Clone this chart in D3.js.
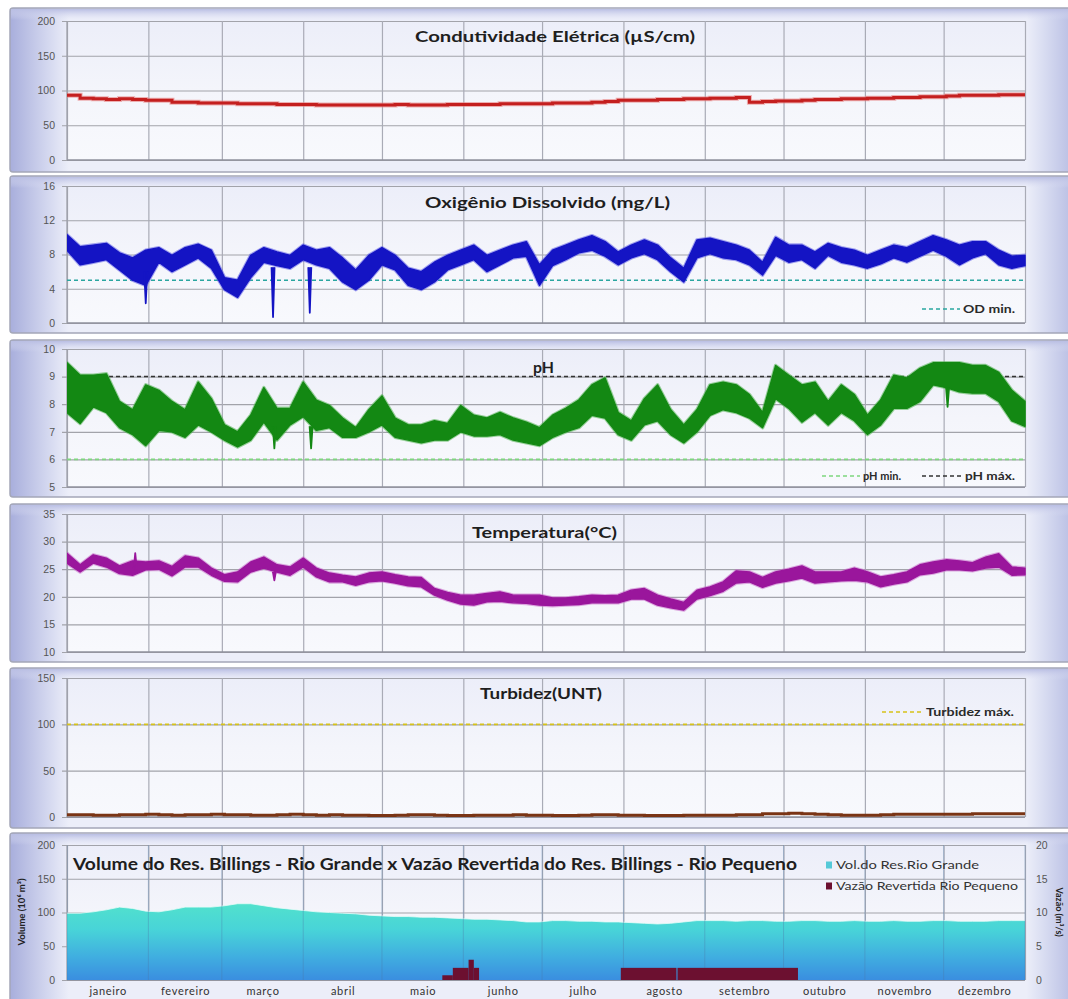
<!DOCTYPE html>
<html>
<head>
<meta charset="utf-8">
<script src="https://cdn.jsdelivr.net/npm/d3@7"></script>
<style>
  body { margin: 0; background: #ffffff; }
  svg { display: block; }
</style>
</head>
<body>
<svg id="chart" width="1068" height="999"></svg>
<script>
// ---------- Dados (uma leitura a cada 5 dias, de 1º de janeiro a 31 de dezembro) ----------
const PASSO_DIAS = 5;
const meses = ["janeiro", "fevereiro", "março", "abril", "maio", "junho", "julho",
               "agosto", "setembro", "outubro", "novembro", "dezembro"];
const inicioMes = [0, 31, 59, 90, 120, 151, 181, 212, 243, 273, 304, 334, 365];

// Condutividade elétrica (µS/cm)
const condutividade = [93, 89, 88, 87, 88, 87, 86, 86, 83, 83, 82, 82, 82, 81, 81, 81, 80, 80, 80, 79,
                       79, 79, 79, 79, 79, 80, 79, 79, 79, 80, 80, 80, 80, 81, 81, 81, 81, 82, 82, 82,
                       83, 84, 86, 86, 86, 87, 87, 88, 88, 89, 89, 90, 83, 84, 85, 85, 86, 87, 87, 88,
                       88, 89, 89, 90, 90, 91, 91, 92, 93, 93, 93, 94, 94, 94];

// Oxigênio dissolvido (mg/L): faixa mínima e máxima de cada intervalo
const odMax = [10.3, 8.9, 9.1, 9.3, 8.2, 7.6, 8.5, 8.8, 7.9, 8.8, 9.2, 8.5, 5.3, 5.0, 7.9, 8.8, 8.3, 7.9, 9.1, 8.5,
               8.8, 7.6, 6.2, 7.9, 8.8, 7.9, 6.4, 6.0, 7.1, 7.9, 8.5, 9.1, 7.9, 8.5, 9.1, 9.5, 6.8, 8.5, 9.1, 9.7,
               10.2, 9.5, 8.3, 9.1, 9.7, 9.1, 7.6, 6.4, 9.7, 9.9, 9.5, 9.1, 8.5, 7.1, 10.0, 9.1, 9.1, 8.3, 9.3, 8.8,
               8.5, 7.9, 8.5, 9.1, 8.8, 9.5, 10.2, 9.7, 9.1, 9.5, 9.5, 8.5, 7.8, 7.9];
const odMin = [8.5, 6.8, 7.1, 7.4, 6.2, 5.0, 4.4, 7.1, 6.0, 6.8, 7.6, 6.4, 3.9, 3.0, 5.3, 7.1, 6.7, 6.4, 7.4, 6.8,
               6.4, 4.8, 3.9, 5.0, 6.8, 6.2, 4.4, 3.9, 4.8, 6.2, 6.8, 7.4, 6.0, 6.8, 7.6, 7.8, 4.4, 6.7, 7.4, 8.2,
               8.5, 7.8, 6.8, 7.6, 8.1, 7.4, 6.0, 4.8, 7.6, 8.1, 7.6, 7.4, 6.8, 5.6, 7.9, 7.1, 7.4, 6.4, 7.9, 7.1,
               6.8, 6.4, 6.9, 7.6, 7.1, 7.8, 8.5, 7.8, 6.8, 7.6, 8.1, 6.8, 6.4, 6.7];
const odQuedaDia = [30, 78.5, 92.5];
const odQuedaValor = [2.3, 0.7, 1.2];
const odMinimo = 5;

// pH
const phMax = [9.5, 9.05, 9.05, 9.1, 8.1, 7.8, 8.7, 8.5, 8.1, 7.8, 8.8, 8.2, 7.25, 7.0, 7.6, 8.6, 7.85, 7.85, 8.8, 8.15,
               7.95, 7.5, 7.15, 7.8, 8.3, 7.5, 7.25, 7.25, 7.4, 7.3, 7.95, 7.6, 7.5, 7.7, 7.5, 7.35, 7.15, 7.6, 7.85, 8.15,
               8.7, 8.95, 7.7, 7.4, 8.2, 8.7, 7.8, 7.25, 7.8, 8.7, 8.8, 8.7, 8.35, 7.7, 9.4, 9.05, 8.7, 8.8, 8.1, 8.7,
               8.35, 7.6, 8.15, 9.05, 8.95, 9.3, 9.5, 9.5, 9.5, 9.4, 9.4, 9.15, 8.5, 8.1];
const phMin = [7.7, 7.3, 7.9, 7.7, 7.15, 6.9, 6.5, 7.05, 7.0, 6.8, 7.25, 7.0, 6.7, 6.45, 6.7, 7.35, 6.7, 7.25, 7.55, 7.05,
               7.15, 6.8, 6.8, 7.0, 7.25, 6.8, 6.7, 6.6, 6.7, 6.7, 7.0, 6.85, 6.85, 6.9, 6.7, 6.6, 6.5, 6.8, 7.0, 7.15,
               7.6, 7.5, 6.9, 6.7, 7.25, 7.4, 6.9, 6.6, 7.0, 7.6, 7.8, 7.7, 7.5, 7.15, 8.2, 7.85, 7.35, 7.7, 7.25, 7.7,
               7.4, 6.9, 7.25, 7.85, 7.85, 8.1, 8.7, 8.6, 8.45, 8.4, 8.4, 8.1, 7.4, 7.2];
const phQuedaDia = [79, 93, 335.5];
const phQuedaValor = [6.4, 6.4, 7.9];
const phMinimo = 6;
const phMaximo = 9;

// Temperatura (°C)
const tempMax = [27.9, 25.8, 27.6, 27.0, 25.6, 26.5, 26.3, 26.5, 25.5, 27.4, 27.0, 25.2, 24.0, 24.5, 26.3, 27.2, 25.8, 25.4, 27.0, 25.2,
                 24.3, 23.9, 23.6, 24.3, 24.5, 24.0, 23.6, 23.5, 21.5, 20.8, 20.3, 20.3, 20.6, 20.9, 20.3, 20.3, 20.3, 19.8, 19.8, 20.0,
                 20.3, 20.2, 20.3, 21.2, 21.5, 20.3, 19.6, 19.0, 21.2, 21.8, 22.7, 24.7, 24.5, 23.5, 24.5, 25.0, 25.6, 24.5, 24.5, 24.5,
                 25.2, 24.5, 23.6, 24.0, 24.5, 25.8, 26.3, 26.7, 26.5, 26.2, 27.2, 27.8, 25.4, 25.2];
const tempMin = [26.1, 24.5, 26.1, 25.4, 24.2, 23.9, 24.9, 25.0, 23.8, 25.4, 25.4, 23.9, 22.8, 22.7, 24.5, 25.2, 24.5, 23.9, 25.4, 23.6,
                 22.7, 22.7, 22.1, 22.7, 22.9, 22.5, 22.0, 21.8, 20.3, 19.4, 18.7, 18.5, 19.1, 19.2, 18.9, 18.8, 18.5, 18.4, 18.5, 18.6,
                 18.9, 18.9, 18.9, 19.6, 19.6, 18.5, 18.0, 17.6, 19.6, 20.2, 21.0, 22.5, 22.7, 21.7, 22.5, 22.9, 23.4, 22.5, 22.7, 22.9,
                 23.0, 22.7, 21.8, 22.3, 22.7, 24.0, 24.3, 24.9, 24.9, 24.7, 25.2, 25.4, 23.9, 24.0];
const tempPicoDia = [26, 79];
const tempPicoValor = [27.9, 23.0];

// Turbidez (UNT)
const turbidez = [2.5, 2.5, 2.0, 2.0, 2.5, 2.5, 3.0, 2.5, 2.0, 2.5, 2.5, 3.0, 2.5, 2.5, 2.0, 2.0, 2.5, 3.0, 2.5, 2.0,
                  2.5, 2.0, 2.0, 1.5, 1.5, 2.0, 2.5, 2.5, 2.0, 1.5, 1.5, 2.0, 2.0, 2.0, 2.5, 2.0, 2.0, 1.5, 1.5, 2.0,
                  2.5, 2.5, 2.0, 2.0, 1.5, 1.5, 1.5, 2.0, 2.0, 2.0, 2.0, 2.5, 2.5, 3.5, 3.5, 4.0, 3.5, 3.0, 2.5, 2.0,
                  2.0, 2.0, 2.5, 3.0, 3.0, 3.0, 3.0, 3.0, 3.0, 3.5, 3.5, 3.5, 3.5, 3.5];
const turbidezMaxima = 100;

// Volume do Res. Billings - Rio Grande (10⁶ m³)
const volume = [99, 99, 101, 104, 108, 106, 102, 101, 104, 108, 108, 108, 110, 113, 113, 110, 107, 105, 103, 101,
                100, 99, 98, 96, 95, 94, 94, 93, 93, 92, 91, 90, 90, 89, 88, 86, 86, 88, 88, 87,
                87, 86, 86, 85, 84, 83, 84, 86, 88, 88, 88, 87, 88, 88, 87, 87, 88, 88, 87, 87,
                88, 87, 87, 88, 87, 87, 88, 88, 87, 87, 87, 88, 88, 88];

// Vazão revertida do Res. Billings - Rio Pequeno (m³/s): início (dia), fim (dia), vazão
const vazaoInicio = [143, 147, 153, 155, 211, 232.6];
const vazaoFim    = [147, 153, 155, 157, 232.2, 278.5];
const vazaoValor  = [0.7, 1.8, 3.0, 1.8, 1.8, 1.8];

// Escalas dos eixos
const ticksCond = [0, 50, 100, 150, 200];
const ticksOD = [0, 4, 8, 12, 16];
const ticksPH = [5, 6, 7, 8, 9, 10];
const ticksTemp = [10, 15, 20, 25, 30, 35];
const ticksTurb = [0, 50, 100, 150];
const ticksVolume = [0, 50, 100, 150, 200];
const ticksVazao = [0, 5, 10, 15, 20];

// ---------- Desenho ----------
const svg = d3.select("#chart");
const X0 = 67, X1 = 1025;
const FONTE = "Lato, Open Sans, sans-serif";
const x = d3.scaleLinear().domain([0, 365]).range([X0, X1]);
const dia = i => i * PASSO_DIAS;

const defs = svg.append("defs");
function gradiente(id, horizontal, stops) {
  const g = defs.append("linearGradient").attr("id", id)
    .attr("x1", 0).attr("y1", 0).attr("x2", horizontal ? 1 : 0).attr("y2", horizontal ? 0 : 1);
  stops.forEach(([o, c]) => g.append("stop").attr("offset", o).attr("stop-color", c));
}
gradiente("fundo", true, [[0, "#a8aedc"], [0.035, "#d3d7ef"], [0.055, "#eceef9"], [0.95, "#eceef9"], [0.965, "#dadef2"], [1, "#b0b6e0"]]);
gradiente("faixa", false, [[0, "#b9bee3"], [1, "rgba(220,223,243,0)"]]);
gradiente("plot", false, [[0, "#eceef9"], [0.5, "#f4f5fb"], [1, "#f8f9fd"]]);

const paineis = [
  { top: 8,   bottom: 172, y0: 21,  y1: 160, dom: [0, 200], ticks: ticksCond,   titulo: "Condutividade Elétrica (µS/cm)", tx: 415, tl: 280, ty: 42 },
  { top: 176, bottom: 333, y0: 186, y1: 323, dom: [0, 16],  ticks: ticksOD,     titulo: "Oxigênio Dissolvido (mg/L)", tx: 425, tl: 245, ty: 208 },
  { top: 340, bottom: 497, y0: 349, y1: 487, dom: [5, 10],  ticks: ticksPH,     titulo: "pH", tx: 533, tl: 21, ty: 373 },
  { top: 504, bottom: 662, y0: 514, y1: 652, dom: [10, 35], ticks: ticksTemp,   titulo: "Temperatura(°C)", tx: 472, tl: 145, ty: 538 },
  { top: 668, bottom: 828, y0: 678, y1: 817, dom: [0, 150], ticks: ticksTurb,   titulo: "Turbidez(UNT)", tx: 480, tl: 122, ty: 699 },
  { top: 833, bottom: 1004, y0: 845, y1: 980, dom: [0, 200], ticks: ticksVolume, titulo: "", tx: 73, tl: 724, ty: 870 }
];

function painel(p, idx) {
  const g = svg.append("g");
  g.append("rect").attr("x", 10).attr("y", p.top).attr("width", 1070).attr("height", p.bottom - p.top)
    .attr("rx", 3).attr("fill", "url(#fundo)").attr("stroke", "#a4a7b8").attr("stroke-width", 1.5);
  g.append("rect").attr("x", 11).attr("y", p.top + 1).attr("width", 1068).attr("height", 11)
    .attr("fill", "url(#faixa)");
  g.append("rect").attr("x", X0).attr("y", p.y0).attr("width", X1 - X0).attr("height", p.y1 - p.y0)
    .attr("fill", "url(#plot)");

  const y = d3.scaleLinear().domain(p.dom).range([p.y1, p.y0]);

  // linhas horizontais e rótulos do eixo
  const ax = g.append("g").attr("transform", `translate(${X1},0)`)
    .call(d3.axisLeft(y).tickValues(p.ticks).tickSize(X1 - X0 + 5).tickPadding(7).tickFormat(d3.format("d")));
  ax.select(".domain").remove();
  ax.selectAll("line").attr("stroke", "#a2a3aa").attr("stroke-width", 1.2);
  ax.selectAll("text").attr("font-family", "Liberation Sans, Arial, sans-serif").attr("font-size", 10.5).attr("fill", "#555");

  // linhas verticais no início de cada mês
  const gx = g.append("g").attr("transform", `translate(0,${p.y1})`)
    .call(d3.axisBottom(x).tickValues(inicioMes).tickSize(-(p.y1 - p.y0)).tickFormat(""));
  gx.select(".domain").remove();
  gx.selectAll("line").attr("stroke", "#a9abb6").attr("stroke-width", 1.2);

  // eixo inferior
  g.append("line").attr("x1", X0).attr("x2", X1).attr("y1", p.y1).attr("y2", p.y1)
    .attr("stroke", "#8f919c").attr("stroke-width", 1.6);
  g.append("line").attr("x1", X0).attr("x2", X0).attr("y1", p.y0).attr("y2", p.y1)
    .attr("stroke", "#9a9ca6").attr("stroke-width", 1.2);

  const clipId = "clip" + idx;
  defs.append("clipPath").attr("id", clipId).append("rect")
    .attr("x", X0).attr("y", p.y0 - 4).attr("width", X1 - X0 + 1).attr("height", p.y1 - p.y0 + 4);
  const plot = g.append("g").attr("clip-path", `url(#${clipId})`);

  if (p.titulo) {
    g.append("text").attr("x", p.tx).attr("y", p.ty).attr("textLength", p.tl).attr("lengthAdjust", "spacingAndGlyphs")
      .attr("font-family", FONTE).attr("font-weight", 700).attr("font-size", 15)
      .attr("fill", "#1e1e1e").text(p.titulo);
  }
  return { g, plot, y };
}

const P = paineis.map(painel);

function faixa(alvo, y, minimos, maximos, cor, halo) {
  const dados = minimos.map((v, i) => ({ d: dia(i), lo: v, hi: maximos[i] }));
  const area = d3.area().x(d => x(d.d)).y0(d => y(d.lo)).y1(d => y(d.hi));
  alvo.append("path").datum(dados).attr("d", area).attr("fill", "none")
    .attr("stroke", halo).attr("stroke-width", 3.5).attr("stroke-linejoin", "round").attr("opacity", 0.55);
  alvo.append("path").datum(dados).attr("d", area).attr("fill", cor)
    .attr("stroke", cor).attr("stroke-width", 1.4).attr("stroke-linejoin", "round");
}
function picos(alvo, y, dias, valores, base, cor) {
  alvo.selectAll(null).data(dias).join("path")
    .attr("d", (d, i) => `M${x(d) - 1.5},${y(base[i])}L${x(d)},${y(valores[i])}L${x(d) + 1.5},${y(base[i])}`)
    .attr("fill", cor).attr("stroke", cor).attr("stroke-width", 1.8).attr("stroke-linejoin", "round");
}
function referencia(alvo, y, valor, cor, largura) {
  alvo.append("line").attr("x1", X0).attr("x2", X1).attr("y1", y(valor)).attr("y2", y(valor))
    .attr("stroke", cor).attr("stroke-width", largura).attr("stroke-dasharray", "4,3");
}
function legenda(g, x1, x2, yl, cor, texto, largura) {
  g.append("line").attr("x1", x1).attr("x2", x2).attr("y1", yl).attr("y2", yl)
    .attr("stroke", cor).attr("stroke-width", 1.5).attr("stroke-dasharray", "4,3");
  g.append("text").attr("x", x2 + 3).attr("y", yl + 4)
    .attr("textLength", largura).attr("lengthAdjust", "spacingAndGlyphs")
    .attr("font-family", FONTE).attr("font-size", 11).attr("font-weight", 700)
    .attr("fill", "#2a2a2a").text(texto);
}

// 1. Condutividade elétrica
{
  const { plot, y } = P[0];
  const linha = d3.line().x((d, i) => x(dia(i))).y(d => y(d)).curve(d3.curveStepAfter);
  plot.append("path").datum(condutividade).attr("d", linha).attr("fill", "none")
    .attr("stroke", "#e88080").attr("stroke-width", 5).attr("opacity", 0.6);
  plot.append("path").datum(condutividade).attr("d", linha).attr("fill", "none")
    .attr("stroke", "#c41f1f").attr("stroke-width", 3);
}

// 2. Oxigênio dissolvido
{
  const { g, plot, y } = P[1];
  referencia(plot, y, odMinimo, "#2aa6a0", 1.6);
  faixa(plot, y, odMin, odMax, "#1414c4", "#5a5ae6");
  picos(plot, y, odQuedaDia, odQuedaValor, [6, 6.5, 6.5], "#1414c4");
  legenda(g, 922, 960, 309, "#2aa6a0", "OD min.", 52);
}

// 3. pH
{
  const { g, plot, y } = P[2];
  referencia(plot, y, phMinimo, "#7ed67e", 1.6);
  referencia(plot, y, phMaximo, "#333333", 1.5);
  faixa(plot, y, phMin, phMax, "#138813", "#4cb04c");
  picos(plot, y, phQuedaDia, phQuedaValor, [7.2, 7.2, 8.6], "#138813");
  legenda(g, 822, 860, 476, "#7ed67e", "pH min.", 38);
  legenda(g, 922, 962, 476, "#333333", "pH máx.", 50);
  g.select("text").raise();
}

// 4. Temperatura
{
  const { plot, y } = P[3];
  faixa(plot, y, tempMin, tempMax, "#9a169c", "#c466c6");
  picos(plot, y, tempPicoDia, tempPicoValor, [25, 24.5], "#9a169c");
}

// 5. Turbidez
{
  const { g, plot, y } = P[4];
  referencia(plot, y, turbidezMaxima, "#d6c21a", 1.6);
  const linha = d3.line().x((d, i) => x(dia(i))).y(d => y(d)).curve(d3.curveStepAfter);
  plot.append("path").datum(turbidez).attr("d", linha).attr("fill", "none")
    .attr("stroke", "#7a3414").attr("stroke-width", 3);
  legenda(g, 882, 923, 712, "#d6c21a", "Turbidez máx.", 88);
}

// 6. Volume x vazão revertida
{
  const { g, plot, y } = P[5];
  const y2 = d3.scaleLinear().domain([0, 20]).range([paineis[5].y1, paineis[5].y0]);

  const gv = defs.append("linearGradient").attr("id", "volumeGrad").attr("gradientUnits", "userSpaceOnUse")
    .attr("x1", 0).attr("x2", 0).attr("y1", y(115)).attr("y2", y(0));
  [[0, "#52e2cc"], [0.35, "#48d4d8"], [0.7, "#40aee0"], [1, "#3a8ee0"]]
    .forEach(([o, c]) => gv.append("stop").attr("offset", o).attr("stop-color", c));

  const area = d3.area().x((d, i) => x(dia(i))).y0(y(0)).y1(d => y(d));
  plot.append("path").datum(volume).attr("d", area).attr("fill", "url(#volumeGrad)");
  const topo = d3.line().x((d, i) => x(dia(i))).y(d => y(d));
  plot.append("path").datum(volume).attr("d", topo).attr("fill", "none")
    .attr("stroke", "#e6fbf8").attr("stroke-width", 1).attr("opacity", 0.8);

  // linhas de grade por cima da área (mais suaves)
  plot.selectAll(null).data(inicioMes).join("line")
    .attr("x1", d => x(d)).attr("x2", d => x(d)).attr("y1", y(200)).attr("y2", y(0))
    .attr("stroke", "#4a78a8").attr("stroke-width", 1).attr("opacity", 0.35);

  plot.selectAll(null).data(vazaoValor).join("rect")
    .attr("x", (d, i) => x(vazaoInicio[i])).attr("width", (d, i) => x(vazaoFim[i]) - x(vazaoInicio[i]))
    .attr("y", d => y2(d)).attr("height", d => y2(0) - y2(d)).attr("fill", "#6c1030");

  // eixo direito
  const ar = g.append("g").attr("transform", `translate(${X1 + 8},0)`)
    .call(d3.axisRight(y2).tickValues(ticksVazao).tickSize(0).tickPadding(3));
  ar.select(".domain").remove();
  ar.selectAll("text").attr("font-family", "Liberation Sans, Arial, sans-serif").attr("font-size", 10.5).attr("fill", "#555");

  // meses
  const meio = meses.map((m, i) => (inicioMes[i] + inicioMes[i + 1]) / 2);
  const am = g.append("g").attr("transform", `translate(0,${paineis[5].y1})`)
    .call(d3.axisBottom(x).tickValues(meio).tickSize(0).tickPadding(7).tickFormat((d, i) => meses[i]));
  am.select(".domain").remove();
  am.selectAll("text").attr("font-family", FONTE).attr("font-size", 11).attr("letter-spacing", 0.7).attr("fill", "#333");

  g.append("text").attr("transform", `translate(25,912) rotate(-90)`).attr("text-anchor", "middle")
    .attr("font-family", FONTE).attr("font-weight", 700).attr("font-size", 9.5).attr("fill", "#222")
    .text("Volume (10⁶ m³)");
  g.append("text").attr("transform", `translate(1056,912) rotate(90)`).attr("text-anchor", "middle")
    .attr("font-family", FONTE).attr("font-weight", 700).attr("font-size", 9).attr("fill", "#222")
    .text("Vazão (m³/s)");

  g.append("text").attr("x", 73).attr("y", 870).attr("textLength", 724).attr("lengthAdjust", "spacingAndGlyphs")
    .attr("font-family", FONTE).attr("font-weight", 700).attr("font-size", 17).attr("fill", "#1e1e1e")
    .text("Volume do Res. Billings - Rio Grande  x  Vazão Revertida do Res. Billings - Rio Pequeno");

  // legenda
  const itens = [["#55c9d8", "Vol.do Res.Rio Grande", 865, 143], ["#6c1030", "Vazão Revertida Rio Pequeno", 886, 182]];
  itens.forEach(([cor, txt, yl, larg]) => {
    g.append("rect").attr("x", 826).attr("y", yl - 3.5).attr("width", 6).attr("height", 7).attr("fill", cor);
    g.append("text").attr("x", 836).attr("y", yl + 4).attr("textLength", larg).attr("lengthAdjust", "spacingAndGlyphs")
      .attr("font-family", FONTE).attr("font-size", 11).attr("fill", "#333").text(txt);
  });
}
</script>
</body>
</html>
